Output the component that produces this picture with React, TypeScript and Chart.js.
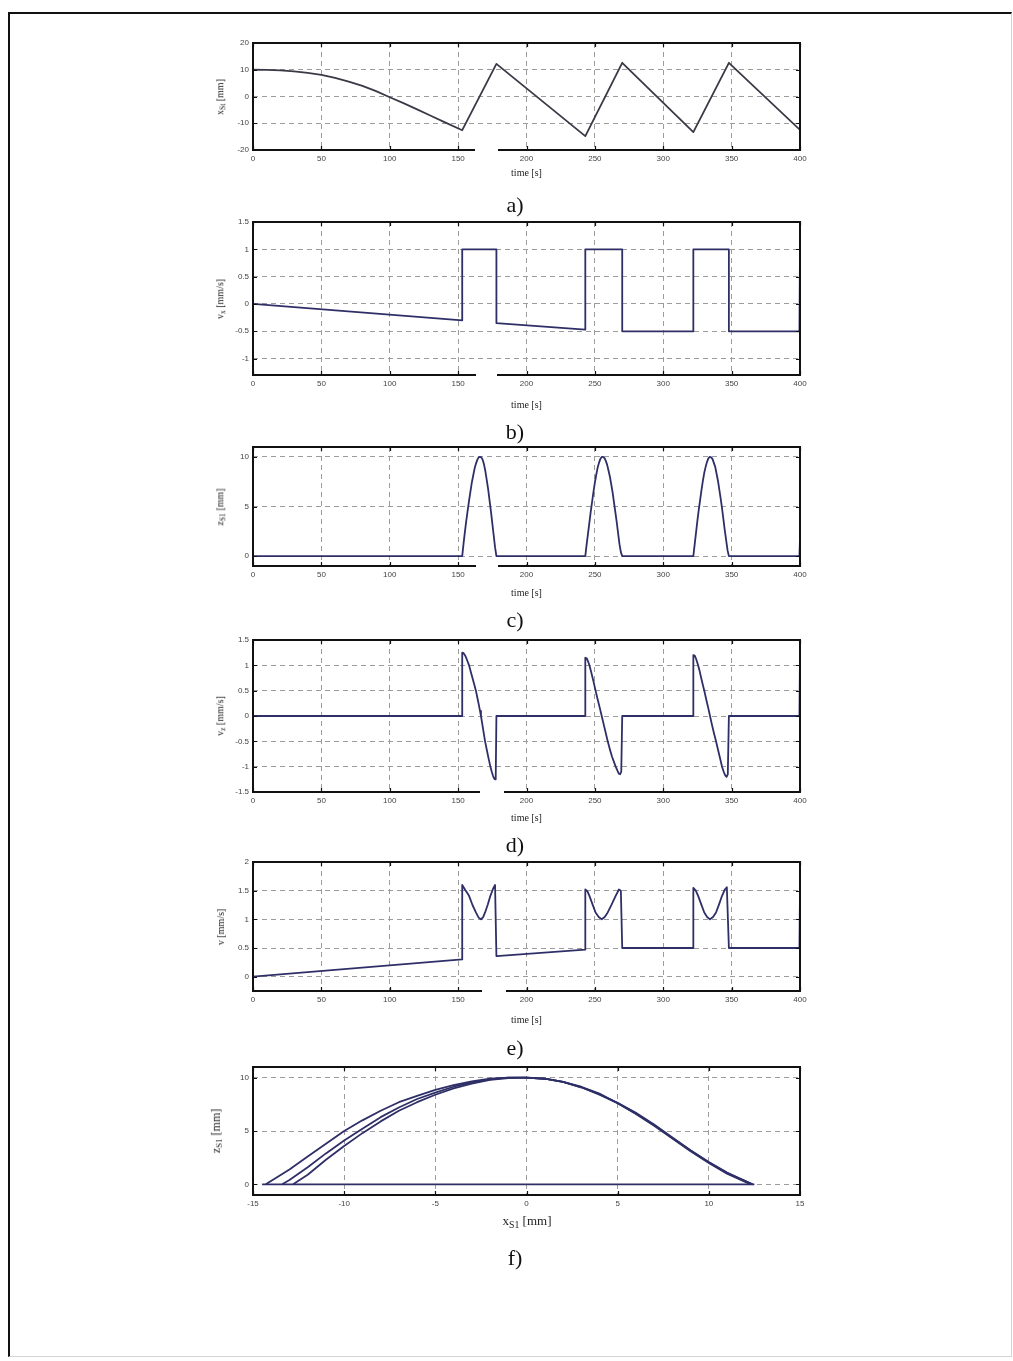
import React, { useEffect, useRef } from 'react';
import { Chart, registerables } from 'chart.js';
Chart.register(...registerables);

// ---------- tick labels ----------
const timeTicks = [0, 50, 100, 150, 200, 250, 300, 350, 400];
const xS1Ticks = [-15, -10, -5, 0, 5, 10, 15];
const xStTicks = [-20, -10, 0, 10, 20];
const vxTicks = [-1, -0.5, 0, 0.5, 1, 1.5];
const zS1Ticks = [0, 5, 10];
const vzTicks = [-1.5, -1, -0.5, 0, 0.5, 1, 1.5];
const vTicks = [0, 0.5, 1, 1.5, 2];
const loopZTicks = [0, 5, 10];

// ---------- a) x_St ----------
const xStTime = [0, 10, 20, 30, 40, 50, 60, 70, 80, 90, 100, 110, 120, 130, 140, 153, 178, 243, 270, 322, 348, 400];
const xStValue = [10, 9.95, 9.8, 9.4, 8.8, 8.1, 7.0, 5.6, 4.0, 2.0, -0.3, -2.5, -4.8, -7.2, -9.6, -12.6, 12.2, -14.8, 12.6, -13.3, 12.6, -12.5];

// ---------- b) v_x ----------
const vxTime = [0, 153, 153, 178, 178, 243, 243, 270, 270, 322, 322, 348, 348, 399.6, 400];
const vxValue = [0, -0.3, 1, 1, -0.35, -0.47, 1, 1, -0.5, -0.5, 1, 1, -0.5, -0.5, 1];

// ---------- c) z_S1 ----------
const zS1Time = [0, 153, 154, 155, 156, 157, 158, 159, 160, 161, 162, 163, 164, 165, 166, 167, 168, 169, 170, 171, 172, 173, 174, 175, 176, 177, 178,
  243, 244, 245, 246, 247, 248, 249, 250, 251, 252, 253, 254, 255, 256, 257, 258, 259, 260, 261, 262, 263, 264, 265, 266, 267, 268, 269, 270,
  322, 323, 324, 325, 326, 327, 328, 329, 330, 331, 332, 333, 334, 335, 336, 337, 338, 339, 340, 341, 342, 343, 344, 345, 346, 347, 348, 399.6, 400];
const zS1Value = [0, 0, 1.3, 2.5, 3.6, 4.6, 5.6, 6.5, 7.4, 8.1, 8.8, 9.3, 9.7, 9.95, 10, 9.95, 9.7, 9.2, 8.5, 7.6, 6.7, 5.6, 4.5, 3.3, 2.1, 0.9, 0,
  0, 1.2, 2.3, 3.4, 4.5, 5.5, 6.5, 7.4, 8.2, 8.9, 9.4, 9.8, 10, 10, 9.9, 9.6, 9.2, 8.6, 8.0, 7.2, 6.4, 5.4, 4.4, 3.4, 2.3, 1.2, 0.4, 0,
  0, 1.2, 2.4, 3.6, 4.7, 5.7, 6.7, 7.6, 8.4, 9.0, 9.5, 9.85, 10, 9.95, 9.8, 9.4, 9.0, 8.3, 7.6, 6.7, 5.8, 4.8, 3.7, 2.6, 1.6, 0.6, 0, 0, 1.8];

// ---------- d) v_z ----------
const vzTime = [0, 153, 153, 154, 155, 156, 157, 158, 159, 160, 161, 162, 163, 164, 165, 166, 166.7, 167.5, 168.5, 169.7, 171, 172.3, 173.6, 174.6, 175.5, 176.3, 177, 177.5, 178,
  243, 243, 244, 245, 246, 247, 248, 249, 250.5, 252, 253.5, 255, 256.5, 258, 259.4, 261, 262.5, 264, 265.2, 266.5, 267.6, 268.5, 269.3, 270,
  322, 322, 323, 324, 325.5, 326.5, 327.5, 328.7, 330, 331.4, 332.8, 334.2, 335.6, 337, 338.6, 340, 341.5, 343, 344.2, 345.3, 346.3, 347.2, 348, 399.6, 400];
const vzValue = [0, 0, 1.25, 1.24, 1.2, 1.14, 1.07, 1.0, 0.9, 0.8, 0.7, 0.6, 0.5, 0.37, 0.24, 0.1, 0, -0.13, -0.3, -0.5, -0.67, -0.84, -1.0, -1.1, -1.18, -1.23, -1.25, -1.2, 0,
  0, 1.15, 1.14, 1.08, 1.0, 0.9, 0.79, 0.68, 0.5, 0.33, 0.17, 0, -0.17, -0.34, -0.5, -0.66, -0.8, -0.91, -1.0, -1.08, -1.14, -1.15, -1.1, 0,
  0, 1.2, 1.19, 1.13, 1.0, 0.9, 0.78, 0.64, 0.5, 0.33, 0.17, 0, -0.17, -0.33, -0.5, -0.66, -0.83, -1.0, -1.1, -1.17, -1.2, -1.15, 0, 0, 1.2];

// ---------- e) v ----------
const vTime = [0, 153, 153, 155, 158, 160.5, 163, 165, 166.7, 168.3, 169.7, 171.7, 173.6, 175.5, 177, 178, 243,
  243, 244.5, 246, 248.3, 250.5, 252.8, 255, 257.2, 259.4, 262.3, 265.2, 267.6, 269, 270, 322,
  322, 323.8, 325.5, 327.8, 330, 332.1, 334.2, 336.4, 338.6, 340.8, 343, 345, 346.5, 348, 399.6, 400];
const vValue = [0, 0.3, 1.6, 1.52, 1.41, 1.25, 1.12, 1.03, 1.0, 1.04, 1.12, 1.26, 1.41, 1.53, 1.6, 0.36, 0.47,
  1.52, 1.49, 1.41, 1.26, 1.12, 1.04, 1.0, 1.04, 1.12, 1.26, 1.41, 1.52, 1.5, 0.5, 0.5,
  1.55, 1.5, 1.41, 1.26, 1.12, 1.04, 1.0, 1.04, 1.12, 1.26, 1.41, 1.52, 1.56, 0.5, 0.5, 1.5];

// ---------- f) z_S1 vs x_S1 ----------
const loop1X = [-14.3, -13, -12, -11, -10, -9, -8, -7, -6, -5, -4, -3, -2, -1, 0, 1, 2, 3, 4, 5, 6, 7, 8, 9, 10, 11, 12.3];
const loop1Z = [0, 1.4, 2.6, 3.8, 5.0, 6.0, 6.9, 7.7, 8.3, 8.85, 9.3, 9.65, 9.9, 10, 10, 9.9, 9.6, 9.15, 8.5, 7.6, 6.6, 5.5, 4.3, 3.1, 2.0, 1.0, 0];
const loop2X = [-13.4, -13, -12, -11, -10, -9, -8, -7, -6, -5, -4, -3, -2, -1, 0, 1, 2, 3, 4, 5, 6, 7, 8, 9, 10, 11, 12.4];
const loop2Z = [0, 0.4, 1.6, 2.9, 4.1, 5.2, 6.3, 7.2, 8.0, 8.6, 9.15, 9.55, 9.85, 10, 10, 9.9, 9.6, 9.1, 8.45, 7.65, 6.7, 5.6, 4.4, 3.2, 2.1, 1.1, 0];
const loop3X = [-12.8, -12, -11, -10, -9, -8, -7, -6, -5, -4, -3, -2, -1, 0, 1, 2, 3, 4, 5, 6, 7, 8, 9, 10, 11, 12.4];
const loop3Z = [0, 0.9, 2.3, 3.6, 4.8, 5.9, 6.9, 7.7, 8.4, 9.0, 9.45, 9.8, 9.97, 10, 9.9, 9.6, 9.1, 8.4, 7.6, 6.65, 5.55, 4.35, 3.15, 2.05, 1.05, 0];
const groundX = [-14.5, 12.5];
const groundZ = [0, 0];

const pts = (xs: number[], ys: number[]) => xs.map((x, i) => ({ x, y: ys[i] }));

const BLUE = '#2f2f68';
const GREY = '#3a3a46';

type Panel = {
  top: number; bottom: number;
  xMin: number; xMax: number; xTicks: number[];
  yMin: number; yMax: number; yTicks: number[];
  series: { x: number[]; y: number[] }[];
  color: string;
  xTitle: string | null; titleGap: number;
  yLabel: [string, string, string]; yTitleX: number; yFont: number;
  letter: string; letterY: number;
  mask: { x: number; y: number; w: number; h: number } | null;
};

const panels: Panel[] = [
  { top: 43, bottom: 150, xMin: 0, xMax: 400, xTicks: timeTicks, yMin: -20, yMax: 20, yTicks: xStTicks,
    series: [{ x: xStTime, y: xStValue }], color: GREY, xTitle: 'time [s]', titleGap: 23,
    yLabel: ['x', 'St', ' [mm]'], yTitleX: 221, yFont: 10, letter: 'a)', letterY: 205,
    mask: { x: 475, y: 143, w: 23, h: 24 } },
  { top: 222, bottom: 375, xMin: 0, xMax: 400, xTicks: timeTicks, yMin: -1.3, yMax: 1.5, yTicks: vxTicks,
    series: [{ x: vxTime, y: vxValue }], color: BLUE, xTitle: 'time [s]', titleGap: 30,
    yLabel: ['v', 'x', ' [mm/s]'], yTitleX: 221, yFont: 10, letter: 'b)', letterY: 432,
    mask: { x: 476, y: 370, w: 21, h: 28 } },
  { top: 447, bottom: 566, xMin: 0, xMax: 400, xTicks: timeTicks, yMin: -1, yMax: 11, yTicks: zS1Ticks,
    series: [{ x: zS1Time, y: zS1Value }], color: BLUE, xTitle: 'time [s]', titleGap: 27,
    yLabel: ['z', 'S1', ' [mm]'], yTitleX: 221, yFont: 10, letter: 'c)', letterY: 620,
    mask: { x: 476, y: 559, w: 22, h: 26 } },
  { top: 640, bottom: 792, xMin: 0, xMax: 400, xTicks: timeTicks, yMin: -1.5, yMax: 1.5, yTicks: vzTicks,
    series: [{ x: vzTime, y: vzValue }], color: BLUE, xTitle: 'time [s]', titleGap: 26,
    yLabel: ['v', 'z', ' [mm/s]'], yTitleX: 221, yFont: 10, letter: 'd)', letterY: 845,
    mask: { x: 480, y: 783, w: 24, h: 28 } },
  { top: 862, bottom: 991, xMin: 0, xMax: 400, xTicks: timeTicks, yMin: -0.25, yMax: 2, yTicks: vTicks,
    series: [{ x: vTime, y: vValue }], color: BLUE, xTitle: 'time [s]', titleGap: 29,
    yLabel: ['v', '', ' [mm/s]'], yTitleX: 221, yFont: 10, letter: 'e)', letterY: 1048,
    mask: { x: 482, y: 988, w: 24, h: 30 } },
  { top: 1067, bottom: 1195, xMin: -15, xMax: 15, xTicks: xS1Ticks, yMin: -1, yMax: 11, yTicks: loopZTicks,
    series: [{ x: loop1X, y: loop1Z }, { x: loop2X, y: loop2Z }, { x: loop3X, y: loop3Z }, { x: groundX, y: groundZ }],
    color: BLUE, xTitle: null, titleGap: 27,
    yLabel: ['z', 'S1', ' [mm]'], yTitleX: 217, yFont: 12, letter: 'f)', letterY: 1258, mask: null },
];

const PAD_TOP = 15;
const AXIS_H = 36;
const PAD_BOTTOM = 10;
const CANVAS_LEFT = 150;
const CANVAS_W = 700;

const framePlugin = {
  id: 'matlabFrame',
  afterDatasetsDraw(chart: any) {
    const { ctx, chartArea: a, scales } = chart;
    ctx.save();
    ctx.strokeStyle = '#111';
    ctx.lineWidth = 1.2;
    const tl = 4;
    ctx.beginPath();
    for (const t of scales.x.ticks) {
      const px = Math.round(scales.x.getPixelForValue(t.value)) + 0.5;
      ctx.moveTo(px, a.bottom); ctx.lineTo(px, a.bottom - tl);
      ctx.moveTo(px, a.top); ctx.lineTo(px, a.top + tl);
    }
    for (const t of scales.y.ticks) {
      const py = Math.round(scales.y.getPixelForValue(t.value)) + 0.5;
      ctx.moveTo(a.left, py); ctx.lineTo(a.left + tl, py);
      ctx.moveTo(a.right, py); ctx.lineTo(a.right - tl, py);
    }
    ctx.stroke();
    ctx.lineWidth = 2;
    ctx.strokeRect(a.left, a.top, a.right - a.left, a.bottom - a.top);
    ctx.restore();
  },
};

function PanelChart({ p }: { p: Panel }) {
  const ref = useRef<HTMLCanvasElement | null>(null);
  useEffect(() => {
    if (!ref.current) return;
    const tickFont = { family: '"Liberation Sans", Arial, sans-serif', size: 8 };
    const grid = { color: '#9c9c9c', lineWidth: 1, drawTicks: false };
    const chart = new Chart(ref.current, {
      type: 'scatter',
      data: {
        datasets: p.series.map((s) => ({
          data: pts(s.x, s.y),
          showLine: true,
          borderColor: p.color,
          backgroundColor: p.color,
          borderWidth: 1.8,
          pointRadius: 0,
          tension: 0,
          borderJoinStyle: 'round',
        })),
      },
      options: {
        animation: false,
        responsive: false,
        maintainAspectRatio: false,
        layout: { padding: { top: PAD_TOP, left: 63, right: 50, bottom: PAD_BOTTOM } },
        plugins: { legend: { display: false }, tooltip: { enabled: false }, title: { display: false } },
        scales: {
          x: {
            type: 'linear', min: p.xMin, max: p.xMax,
            afterBuildTicks: (s: any) => { s.ticks = p.xTicks.map((v) => ({ value: v })); },
            afterFit: (s: any) => { s.height = AXIS_H; },
            grid: { ...grid },
            border: { display: false, dash: [5, 4] },
            ticks: { font: tickFont, color: '#444', padding: 4, maxRotation: 0, autoSkip: false, callback: (v: any) => String(v) },
            title: p.xTitle ? {
              display: true, text: p.xTitle, color: '#222',
              font: { family: '"Liberation Serif", "Times New Roman", serif', size: 10 },
              padding: { top: 0, bottom: Math.max(0, 30 - p.titleGap) },
            } : { display: false },
          },
          y: {
            type: 'linear', min: p.yMin, max: p.yMax,
            afterBuildTicks: (s: any) => { s.ticks = p.yTicks.map((v) => ({ value: v })); },
            afterFit: (s: any) => { s.width = 40; },
            grid: { ...grid },
            border: { display: false, dash: [5, 4] },
            ticks: { font: tickFont, color: '#444', padding: 4, autoSkip: false, callback: (v: any) => String(v) },
          },
        },
      } as any,
      plugins: [framePlugin],
    });
    return () => chart.destroy();
  }, [p]);

  const h = p.bottom - p.top + PAD_TOP + AXIS_H + PAD_BOTTOM;
  const serif = '"Liberation Serif", "Times New Roman", serif';
  return (
    <>
      <canvas
        ref={ref}
        width={CANVAS_W}
        height={h}
        style={{ position: 'absolute', left: CANVAS_LEFT, top: p.top - PAD_TOP, width: CANVAS_W, height: h }}
      />
      {p.mask && (
        <div style={{ position: 'absolute', left: p.mask.x, top: p.mask.y, width: p.mask.w, height: p.mask.h, background: '#fff' }} />
      )}
      <div
        style={{
          position: 'absolute', left: p.yTitleX, top: (p.top + p.bottom) / 2,
          transform: 'translate(-50%, -50%) rotate(-90deg)', whiteSpace: 'nowrap',
          fontFamily: serif, fontSize: p.yFont, color: '#222', lineHeight: 1,
        }}
      >
        {p.yLabel[0]}
        {p.yLabel[1] && <sub style={{ fontSize: '0.75em', verticalAlign: '-0.25em' }}>{p.yLabel[1]}</sub>}
        {p.yLabel[2]}
      </div>
      {!p.xTitle && (
        <div
          style={{
            position: 'absolute', left: 527, top: p.bottom + p.titleGap,
            transform: 'translate(-50%, -50%)', whiteSpace: 'nowrap',
            fontFamily: serif, fontSize: 13, color: '#222', lineHeight: 1,
          }}
        >
          x<sub style={{ fontSize: '0.75em', verticalAlign: '-0.3em' }}>S1</sub> [mm]
        </div>
      )}
      <div
        style={{
          position: 'absolute', left: 515, top: p.letterY,
          transform: 'translate(-50%, -50%)', whiteSpace: 'nowrap',
          fontFamily: serif, fontSize: 22, color: '#111', lineHeight: 1,
        }}
      >
        {p.letter}
      </div>
    </>
  );
}

export default function App() {
  return (
    <div style={{ position: 'absolute', left: 0, top: 0, width: 1013, height: 1361, background: '#fff', overflow: 'hidden' }}>
      <div
        style={{
          position: 'absolute', left: 8, top: 12, width: 1001, height: 1342,
          borderLeft: '2px solid #111', borderTop: '2px solid #111',
          borderRight: '1px solid #d4d4d4', borderBottom: '1px solid #d4d4d4',
        }}
      />
      {panels.map((p, i) => (
        <PanelChart key={i} p={p} />
      ))}
    </div>
  );
}
